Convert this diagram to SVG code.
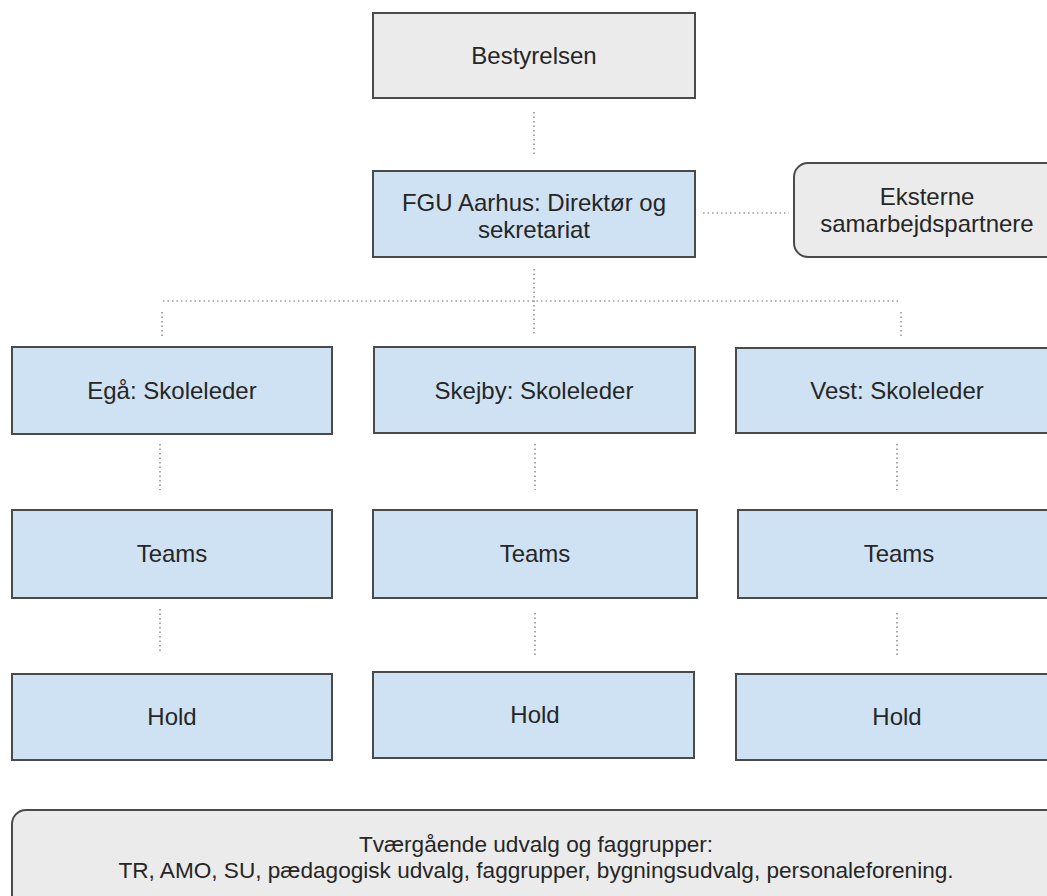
<svg xmlns="http://www.w3.org/2000/svg" width="1047" height="896" viewBox="0 0 1047 896">
<style>
  .box { stroke: #4a4a4a; stroke-width: 2; }
  .blue { fill: #cfe2f3; }
  .gray { fill: #ebebeb; }
  .t { font-family: "Liberation Sans", Arial, sans-serif; font-size: 24px; fill: #262626; text-anchor: middle; }
  .tb { font-family: "Liberation Sans", Arial, sans-serif; font-size: 22.6px; fill: #262626; text-anchor: middle; }
  .c line { stroke: #6e6e6e; stroke-width: 1.2; stroke-dasharray: 1.5 3; fill: none; }
</style>
<rect width="1047" height="896" fill="#ffffff"/>
<g class="c" id="connectors">
  <line x1="534" y1="112" x2="534" y2="156"/>
  <line x1="703" y1="213" x2="789" y2="213"/>
  <line x1="534" y1="269" x2="534" y2="334"/>
  <line x1="163" y1="301" x2="901" y2="301"/>
  <line x1="162" y1="312" x2="162" y2="337"/>
  <line x1="901" y1="312" x2="901" y2="337"/>
  <line x1="160" y1="444" x2="160" y2="490"/>
  <line x1="535" y1="444" x2="535" y2="490"/>
  <line x1="897" y1="444" x2="897" y2="490"/>
  <line x1="160" y1="609" x2="160" y2="653"/>
  <line x1="535" y1="613" x2="535" y2="657"/>
  <line x1="897" y1="613" x2="897" y2="657"/>
</g>
<g id="bestyrelsen">
  <rect class="box gray" x="373" y="13" width="322" height="85"/>
  <text class="t" x="534" y="64">Bestyrelsen</text>
</g>
<g id="fgu">
  <rect class="box blue" x="373" y="171" width="322" height="86"/>
  <text class="t" x="534" y="211">FGU Aarhus: Direktør og</text>
  <text class="t" x="534" y="238">sekretariat</text>
</g>
<g id="eksterne">
  <rect class="box gray" x="794" y="163" width="266" height="94" rx="14" ry="14"/>
  <text class="t" x="927" y="205">Eksterne</text>
  <text class="t" x="927" y="232">samarbejdspartnere</text>
</g>
<g id="ega">
  <rect class="box blue" x="12" y="347" width="320" height="87"/>
  <text class="t" x="172" y="399">Egå: Skoleleder</text>
</g>
<g id="skejby">
  <rect class="box blue" x="374" y="347" width="321" height="86"/>
  <text class="t" x="534" y="399">Skejby: Skoleleder</text>
</g>
<g id="vest">
  <rect class="box blue" x="736" y="348" width="322" height="85"/>
  <text class="t" x="897" y="399">Vest: Skoleleder</text>
</g>
<g id="teams-ega">
  <rect class="box blue" x="12" y="510" width="320" height="88"/>
  <text class="t" x="172" y="562">Teams</text>
</g>
<g id="teams-skejby">
  <rect class="box blue" x="373" y="510" width="324" height="88"/>
  <text class="t" x="535" y="562">Teams</text>
</g>
<g id="teams-vest">
  <rect class="box blue" x="738" y="510" width="320" height="88"/>
  <text class="t" x="899" y="562">Teams</text>
</g>
<g id="hold-ega">
  <rect class="box blue" x="12" y="674" width="320" height="86"/>
  <text class="t" x="172" y="725">Hold</text>
</g>
<g id="hold-skejby">
  <rect class="box blue" x="373" y="672" width="321" height="86"/>
  <text class="t" x="535" y="723">Hold</text>
</g>
<g id="hold-vest">
  <rect class="box blue" x="736" y="674" width="322" height="86"/>
  <text class="t" x="897" y="725">Hold</text>
</g>
<g id="tvaergaende">
  <rect class="box gray" x="12" y="810" width="1048" height="100" rx="14" ry="14"/>
  <text class="tb" x="536" y="852">Tværgående udvalg og faggrupper:</text>
  <text class="tb" x="536" y="878">TR, AMO, SU, pædagogisk udvalg, faggrupper, bygningsudvalg, personaleforening.</text>
</g>
</svg>
